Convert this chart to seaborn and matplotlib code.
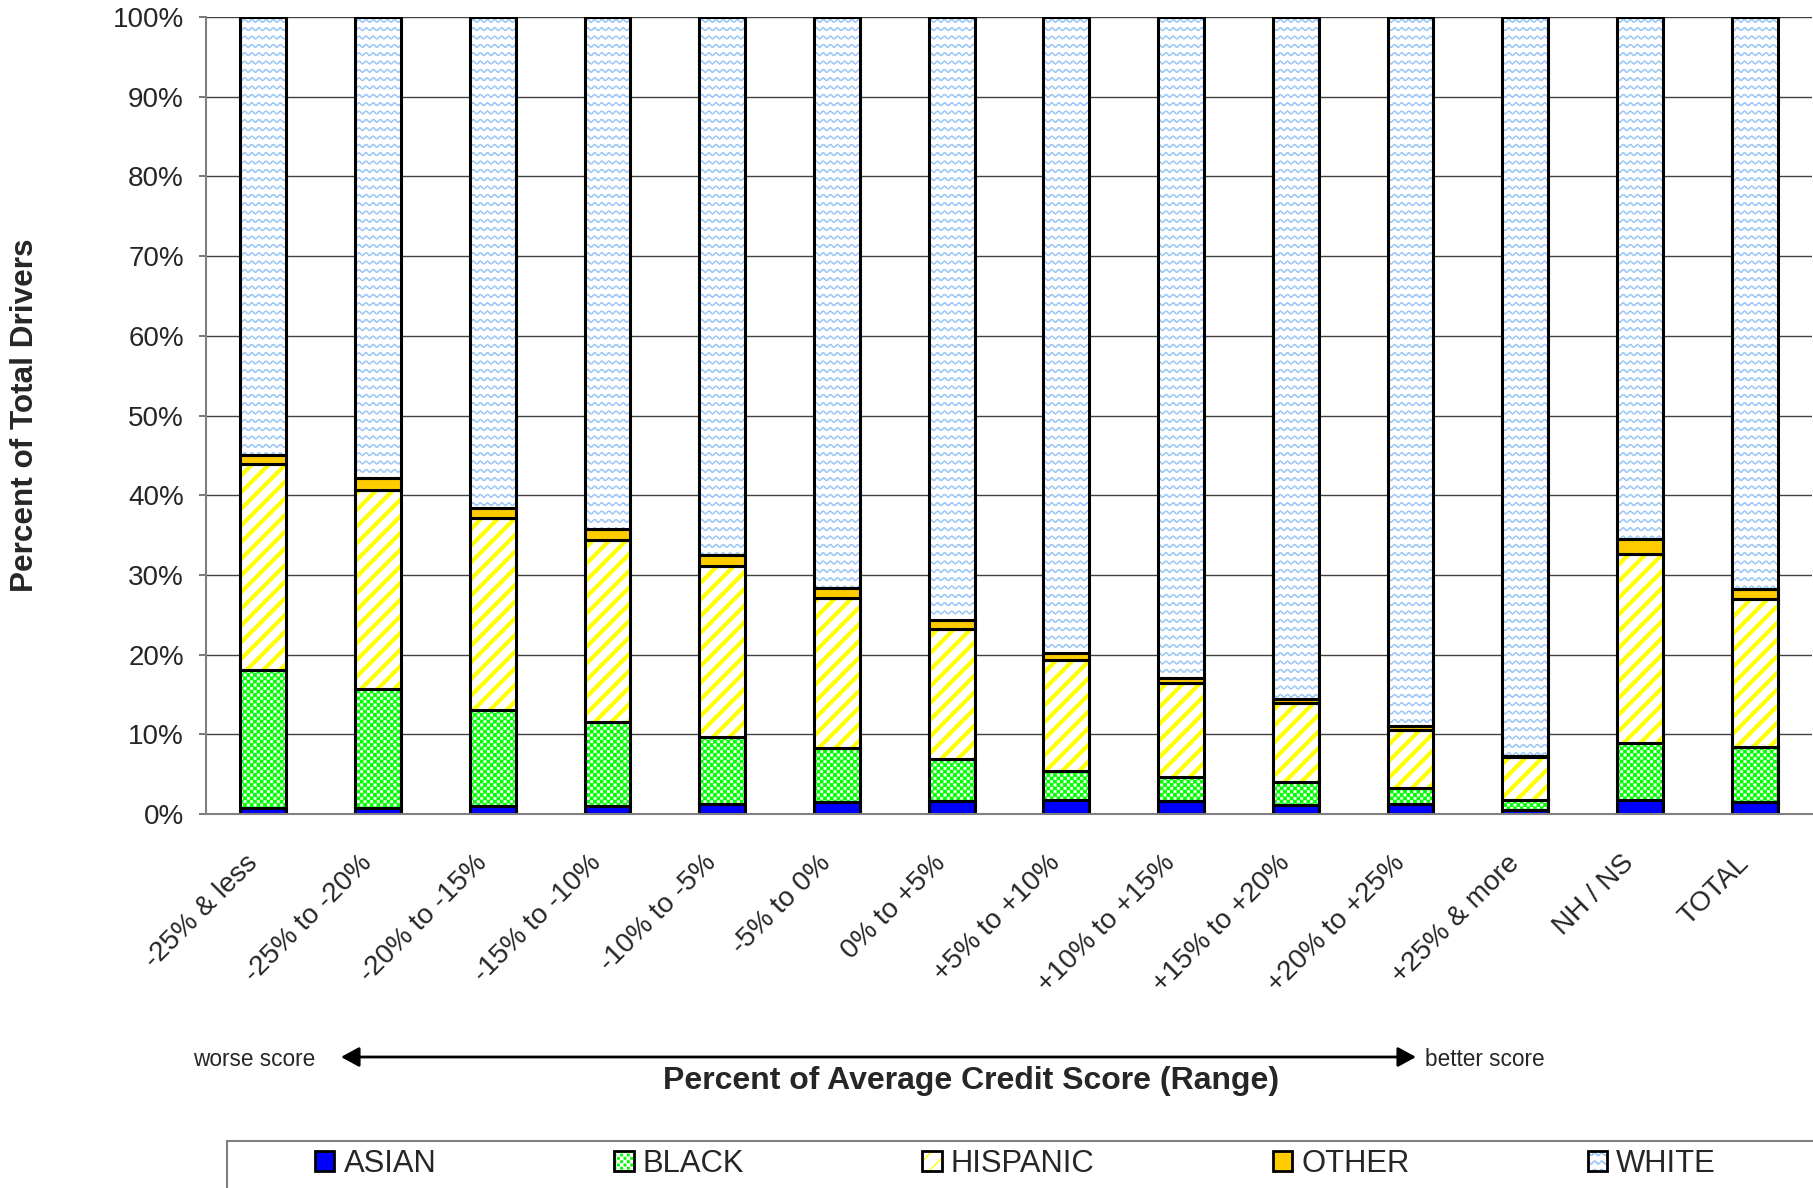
import numpy as np
import matplotlib
matplotlib.use('Agg')
import matplotlib.pyplot as plt
import matplotlib.patches as mpatches
from matplotlib import hatch as mhatch
from matplotlib.path import Path
from matplotlib.transforms import ScaledTranslation
import seaborn as sns

# Données (pourcentage de conducteurs par groupe)
categories = ['-25% & less', '-25% to -20%', '-20% to -15%', '-15% to -10%',
              '-10% to -5%', '-5% to 0%', '0% to +5%', '+5% to +10%',
              '+10% to +15%', '+15% to +20%', '+20% to +25%', '+25% & more',
              'NH / NS', 'TOTAL']
asian = [0.8, 0.8, 1.0, 1.0, 1.3, 1.5, 1.6, 1.7, 1.6, 1.1, 1.2, 0.5, 1.8, 1.5]
black = [17.3, 14.9, 12.0, 10.6, 8.4, 6.8, 5.3, 3.7, 3.0, 2.9, 2.0, 1.3, 7.1, 6.9]
hispanic = [25.8, 25.0, 24.2, 22.8, 21.4, 18.8, 16.3, 13.9, 11.8, 9.9, 7.4, 5.3, 23.7, 18.6]
other = [1.2, 1.4, 1.2, 1.4, 1.4, 1.3, 1.2, 0.9, 0.7, 0.5, 0.5, 0.2, 1.9, 1.2]
white = [54.9, 57.9, 61.6, 64.2, 67.5, 71.6, 75.6, 79.8, 82.9, 85.6, 88.9, 92.7, 65.5, 71.8]
y_ticks = list(range(0, 101, 10))


# ------- Motifs de remplissage style Excel -------
class WaveHatch(mhatch.HatchPatternBase):
    # '~' : lignes ondulées horizontales
    def __init__(self, hatch, density):
        self.num_lines = int(hatch.count('~') * density)
        self.steps = 14 * 8
        self.num_vertices = self.num_lines * self.steps * 2

    def set_vertices_and_codes(self, vertices, codes):
        t = np.linspace(0, 1, self.steps + 1)
        k = 0
        for i in range(self.num_lines):
            ys = (i + 0.5) / self.num_lines + 0.013 * np.sin(2 * np.pi * 14 * t)
            for j in range(self.steps):
                vertices[k] = (t[j], ys[j])
                vertices[k + 1] = (t[j + 1], ys[j + 1])
                codes[k] = Path.MOVETO
                codes[k + 1] = Path.LINETO
                k += 2


class CheckerHatch(mhatch.HatchPatternBase):
    # '#' : petit damier
    def __init__(self, hatch, density):
        n = int(hatch.count('#') * density * 5)
        self.n = n
        self.cells = [(i, j) for i in range(n) for j in range(n) if (i + j) % 2 == 0]
        self.num_vertices = len(self.cells) * 5
        self.filled = True

    def set_vertices_and_codes(self, vertices, codes):
        s = 1.0 / self.n
        d = 0.15 * s
        for k, (i, j) in enumerate(self.cells):
            x0, y0 = i * s + d, j * s + d
            x1, y1 = (i + 1) * s - d, (j + 1) * s - d
            vertices[5 * k:5 * k + 5] = [(x0, y0), (x1, y0), (x1, y1), (x0, y1), (x0, y0)]
            codes[5 * k:5 * k + 5] = [Path.MOVETO, Path.LINETO, Path.LINETO,
                                      Path.LINETO, Path.CLOSEPOLY]


mhatch._hatch_types.append(WaveHatch)
mhatch._hatch_types.append(CheckerHatch)

sns.set_theme(style='white')
plt.rcParams['font.family'] = ['Liberation Sans', 'DejaVu Sans']

fig = plt.figure(figsize=(18.13, 11.88), dpi=100)
ax = fig.add_axes([206 / 1813, 1 - 814 / 1188, 1606 / 1813, 797 / 1188])

# (nom, données, couleur de fond, motif, couleur du motif, épaisseur du motif)
layers = [
    ('ASIAN', asian, '#0000FF', None, None, 1.0),
    ('BLACK', black, '#00FF00', '#', '#FFFFFF', 0.4),
    ('HISPANIC', hispanic, '#FFFFFF', '//', '#FFFF00', 3.0),
    ('OTHER', other, '#FFCC00', None, None, 1.0),
    ('WHITE', white, '#FFFFFF', '~~', '#A2CBF5', 0.9),
]

bottom = np.zeros(len(categories))
handles = []
for name, vals, face, hatch, hcol, hlw in layers:
    vals = np.array(vals)
    if hatch:
        with plt.rc_context({'hatch.linewidth': hlw}):
            sns.barplot(x=categories, y=vals, order=categories, bottom=bottom,
                        width=0.4, errorbar=None, saturation=1, color=face,
                        facecolor=face, edgecolor=hcol, linewidth=0,
                        hatch=hatch, ax=ax)
            fill_h = mpatches.Patch(facecolor=face, edgecolor=hcol, linewidth=0, hatch=hatch)
        sns.barplot(x=categories, y=vals, order=categories, bottom=bottom,
                    width=0.4, errorbar=None, saturation=1, color=face,
                    facecolor='none', edgecolor='black', linewidth=2.2, ax=ax)
        line_h = mpatches.Patch(facecolor='none', edgecolor='black', linewidth=2)
        handles.append((fill_h, line_h))
    else:
        sns.barplot(x=categories, y=vals, order=categories, bottom=bottom,
                    width=0.4, errorbar=None, saturation=1, color=face,
                    facecolor=face, edgecolor='black', linewidth=2.2, ax=ax)
        handles.append(mpatches.Patch(facecolor=face, edgecolor='black', linewidth=2))
    bottom = bottom + vals

# Axes
ax.set_xlim(-0.5, len(categories) - 0.5)
ax.set_ylim(0, 100)
ax.set_yticks(y_ticks)
ax.set_yticklabels([f'{v}%' for v in y_ticks], fontsize=20)
ax.set_xticks(range(len(categories)))
ax.set_xticklabels(categories, rotation=45, ha='right', va='top',
                   rotation_mode='anchor', fontsize=20)
ax.set_xticks(np.arange(-0.5, len(categories), 1), minor=True)
ax.tick_params(axis='x', which='major', length=0, pad=26)
ax.tick_params(axis='x', which='minor', length=6.5, width=1.2, color='#606060', direction='out')
ax.tick_params(axis='y', length=5, width=1.2, color='#606060', direction='out', pad=11, left=True)
for lab in ax.get_xticklabels():
    lab.set_transform(lab.get_transform() + ScaledTranslation(-0.19, 0, fig.dpi_scale_trans))
ax.set_xlabel('')
ax.set_ylabel('')
ax.yaxis.grid(True, color='#404040', linewidth=1)
ax.set_axisbelow(True)
for side in ['top', 'right']:
    ax.spines[side].set_visible(False)
for side in ['left', 'bottom']:
    ax.spines[side].set_color('#808080')
    ax.spines[side].set_linewidth(1.5)

# Titres des axes
fig.text(25 / 1813, 0.5 * (1 - 17 / 1188 + 1 - 814 / 1188), 'Percent of Total Drivers',
         rotation=90, ha='center', va='center', fontsize=22.7, fontweight='bold')
fig.text(971 / 1813, 1 - 1081 / 1188, 'Percent of Average Credit Score (Range)',
         ha='center', va='center', fontsize=23, fontweight='bold')

# Flèche worse / better
fig.text(193 / 1813, 1 - 1060 / 1188, 'worse score', ha='left', va='center', fontsize=16.3)
fig.text(1425 / 1813, 1 - 1060 / 1188, 'better score', ha='left', va='center', fontsize=16.3)
ax.annotate('', xy=(341, 1188 - 1057), xytext=(1416, 1188 - 1057),
            xycoords='figure pixels', textcoords='figure pixels',
            arrowprops=dict(arrowstyle='<|-|>,head_length=0.55,head_width=0.3',
                            mutation_scale=20, lw=2, color='black',
                            shrinkA=0, shrinkB=0))

# Légende
fig.add_artist(mpatches.Rectangle((227 / 1813, -0.05), 1.0, 0.05 + 1 - 1141 / 1188,
                                  transform=fig.transFigure, fill=False,
                                  edgecolor='#808080', linewidth=1.5))
fig.legend(handles, [l[0] for l in layers], ncol=5, loc='center left',
           bbox_to_anchor=(315 / 1813, 1 - 1164 / 1188), frameon=False,
           borderpad=0, borderaxespad=0, handlelength=0.62, handleheight=0.62,
           handletextpad=0.3, columnspacing=5.75, fontsize=22.3)

fig.savefig('out.png', dpi=100)
plt.close()
